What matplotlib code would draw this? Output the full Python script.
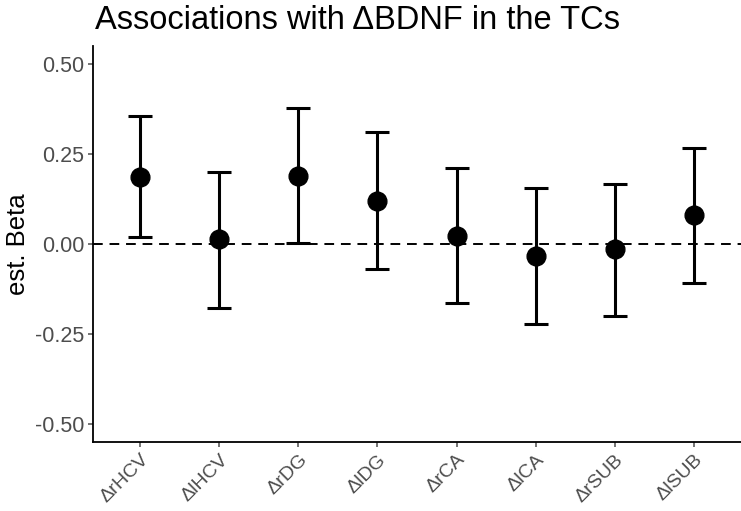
import matplotlib
matplotlib.use('Agg')
import matplotlib.pyplot as plt

# Estimates with confidence intervals
regions = ['ΔrHCV', 'ΔlHCV', 'ΔrDG', 'ΔlDG', 'ΔrCA', 'ΔlCA', 'ΔrSUB', 'ΔlSUB']
beta = [0.186, 0.013, 0.190, 0.119, 0.022, -0.033, -0.015, 0.081]
ci_low = [0.019, -0.177, 0.003, -0.070, -0.165, -0.222, -0.200, -0.108]
ci_high = [0.355, 0.200, 0.378, 0.311, 0.210, 0.156, 0.167, 0.268]
yticks = [-0.50, -0.25, 0.00, 0.25, 0.50]

plt.rcParams['font.family'] = ['Liberation Sans', 'DejaVu Sans']

fig = plt.figure(figsize=(7.41, 5.11), dpi=100)
ax = fig.add_axes([93 / 741, 69 / 511, 648 / 741, 396 / 511])

x = list(range(1, len(regions) + 1))
err_lo = [b - lo for b, lo in zip(beta, ci_low)]
err_hi = [hi - b for b, hi in zip(beta, ci_high)]

ax.axhline(0, color='black', lw=1.4, ls=(0, (5, 3.5)), zorder=1)
ax.errorbar(x, beta, yerr=[err_lo, err_hi], fmt='o', color='black',
            ecolor='black', elinewidth=2.2, capsize=8.3, capthick=2.2,
            markersize=13.5, zorder=3)

ax.set_xlim(0.4, 8.6)
ax.set_ylim(-0.55, 0.55)
ax.set_xticks(x)
ax.set_xticklabels(regions, rotation=45, ha='right', rotation_mode='anchor')
ax.set_yticks(yticks)
ax.set_yticklabels(['{:.2f}'.format(v) for v in yticks])
ax.tick_params(axis='both', colors='#4D4D4D', length=3.6, width=1.1, pad=2.5)
ax.tick_params(axis='y', labelsize=15.5)
ax.tick_params(axis='x', labelsize=14, pad=3)

for side in ['top', 'right']:
    ax.spines[side].set_visible(False)
for side in ['left', 'bottom']:
    ax.spines[side].set_linewidth(1.3)
    ax.spines[side].set_color('black')

ax.set_ylabel('est. Beta', fontsize=18.5, labelpad=4)
fig.text(95 / 741, 1 - 29 / 511, 'Associations with ΔBDNF in the TCs',
         fontsize=23.5, ha='left', va='baseline')

fig.savefig('out.png', dpi=100)
